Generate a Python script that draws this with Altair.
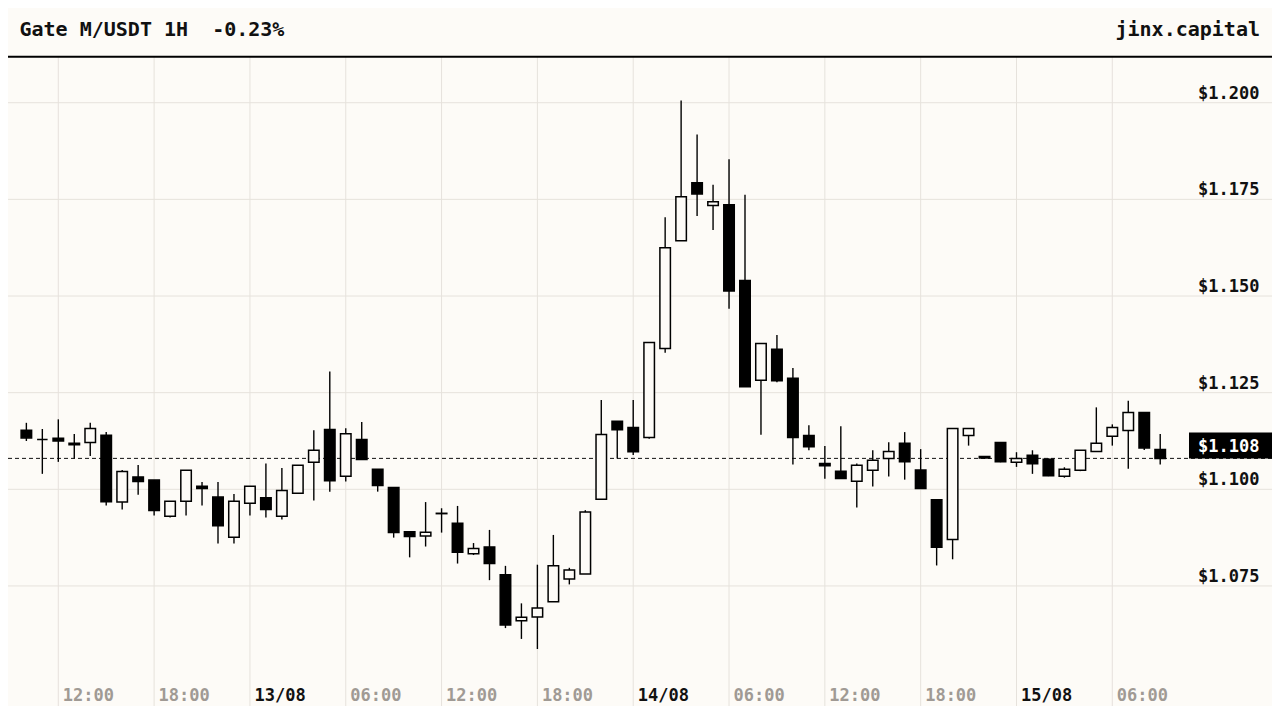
import altair as alt
import pandas as pd

# ---- data ----
hours = list(range(10, 82))  # hours since 12/08 00:00
opens = [1.1153, 1.1129, 1.1132, 1.1119, 1.1121, 1.1140, 1.0967, 1.1032, 1.1024, 1.0930,
         1.0969, 1.1008, 1.0980, 1.0876, 1.0964, 1.0978, 1.0930, 1.0990, 1.1070, 1.1155,
         1.1034, 1.1129, 1.1052, 1.1005, 1.0890, 1.0879, 1.0937, 1.0912, 1.0833, 1.0851,
         1.0779, 1.0660, 1.0670, 1.0709, 1.0768, 1.0781, 1.0974, 1.1176, 1.1160, 1.1134,
         1.1364, 1.1643, 1.1793, 1.1734, 1.1736, 1.1540, 1.1282, 1.1362, 1.1287, 1.1139,
         1.1067, 1.1047, 1.1021, 1.1049, 1.1080, 1.1119, 1.1050, 1.0973, 1.0870, 1.1139,
         1.1085, 1.1121, 1.1070, 1.1088, 1.1078, 1.1034, 1.1049, 1.1098, 1.1137, 1.1152,
         1.1199, 1.1103]
highs = [1.1172, 1.1156, 1.1181, 1.1143, 1.1172, 1.1148, 1.1050, 1.1063, 1.1024, 1.0969,
         1.1049, 1.1019, 1.1019, 1.0988, 1.1008, 1.1067, 1.1055, 1.1062, 1.1153, 1.1305,
         1.1158, 1.1174, 1.1052, 1.1005, 1.0892, 1.0967, 1.0951, 1.0957, 1.0861, 1.0895,
         1.0802, 1.0705, 1.0805, 1.0882, 1.0797, 1.0946, 1.1231, 1.1176, 1.1231, 1.1380,
         1.1704, 1.2006, 1.1918, 1.1788, 1.1854, 1.1762, 1.1377, 1.1399, 1.1314, 1.1166,
         1.1112, 1.1163, 1.1067, 1.1101, 1.1122, 1.1148, 1.1104, 1.0973, 1.1157, 1.1157,
         1.1086, 1.1121, 1.1096, 1.1101, 1.1080, 1.1057, 1.1101, 1.1212, 1.1168, 1.1229,
         1.1200, 1.1143]
lows = [1.1125, 1.1040, 1.1071, 1.1080, 1.1086, 1.0958, 1.0948, 1.0986, 1.0932, 1.0927,
        1.0932, 1.0958, 1.0860, 1.0860, 1.0932, 1.0927, 1.0922, 1.0990, 1.0971, 1.0994,
        1.1020, 1.1077, 1.0994, 1.0875, 1.0824, 1.0852, 1.0888, 1.0808, 1.0830, 1.0765,
        1.0641, 1.0613, 1.0587, 1.0709, 1.0754, 1.0781, 1.0974, 1.1080, 1.1089, 1.1131,
        1.1353, 1.1643, 1.1707, 1.1671, 1.1467, 1.1265, 1.1141, 1.1277, 1.1064, 1.1101,
        1.1027, 1.1028, 1.0953, 1.1007, 1.1033, 1.1025, 1.1002, 1.0803, 1.0819, 1.1113,
        1.1079, 1.1070, 1.1058, 1.1040, 1.1034, 1.1030, 1.1047, 1.1098, 1.1113, 1.1053,
        1.1102, 1.1064]
closes = [1.1133, 1.1129, 1.1125, 1.1115, 1.1157, 1.0968, 1.1046, 1.1020, 1.0945, 1.0969,
          1.1049, 1.1002, 1.0906, 1.0969, 1.1008, 1.0948, 1.0997, 1.1062, 1.1101, 1.1022,
          1.1144, 1.1077, 1.1010, 1.0888, 1.0878, 1.0889, 1.0938, 1.0837, 1.0847, 1.0808,
          1.0649, 1.0669, 1.0693, 1.0802, 1.0791, 1.0941, 1.1142, 1.1154, 1.1097, 1.1380,
          1.1625, 1.1757, 1.1764, 1.1744, 1.1513, 1.1265, 1.1377, 1.1281, 1.1134, 1.1110,
          1.1061, 1.1028, 1.1062, 1.1075, 1.1098, 1.1071, 1.1002, 1.0850, 1.1157, 1.1157,
          1.1081, 1.1071, 1.1080, 1.1066, 1.1035, 1.1052, 1.1101, 1.1119, 1.1160, 1.1199,
          1.1107, 1.1080]

x_tick_hours = [12, 18, 24, 30, 36, 42, 48, 54, 60, 66, 72, 78]
x_tick_labels = ["12:00", "18:00", "13/08", "06:00", "12:00", "18:00",
                 "14/08", "06:00", "12:00", "18:00", "15/08", "06:00"]
y_tick_values = [1.075, 1.100, 1.125, 1.150, 1.175, 1.200]
y_tick_labels = ["$1.075", "$1.100", "$1.125", "$1.150", "$1.175", "$1.200"]

title_left = "Gate M/USDT 1H\u00a0 -0.23%"
title_right = "jinx.capital"
last_price = closes[-1]
last_price_label = "$1.108"

# ---- style ----
W, H = 1264, 698
BG = "#fdfbf7"
GRID = "#e6e2dc"
INK = "#111111"
GRAY = "#a09a94"
FONT = "DejaVu Sans Mono"

xs = alt.Scale(domain=[8.85, 88.0], nice=False, zero=False, padding=0)
ys = alt.Scale(domain=[1.04395, 1.2245], nice=False, zero=False, padding=0)

candles = pd.DataFrame({"h": hours, "o": opens, "hi": highs, "lo": lows, "c": closes})
xt = pd.DataFrame({"h": x_tick_hours, "lab": x_tick_labels})
yt = pd.DataFrame({"v": y_tick_values, "lab": y_tick_labels})
lp = pd.DataFrame({"p": [last_price], "lab": [last_price_label]})
hdr = pd.DataFrame({"left": [title_left], "right": [title_right]})

vgrid = alt.Chart(xt).mark_rule(color=GRID, strokeWidth=1).encode(
    x=alt.X("h:Q", scale=xs, axis=None),
    y=alt.value(49), y2=alt.value(H))

hgrid = alt.Chart(yt).mark_rule(color=GRID, strokeWidth=1).encode(
    y=alt.Y("v:Q", scale=ys, axis=None),
    x=alt.value(0), x2=alt.value(W))

pline = alt.Chart(lp).mark_rule(color=INK, strokeWidth=1, strokeDash=[4, 3]).encode(
    y=alt.Y("p:Q", scale=ys, axis=None),
    x=alt.value(0), x2=alt.value(W))

wicks = alt.Chart(candles).mark_rule(color="#000000", strokeWidth=1.4).encode(
    x=alt.X("h:Q", scale=xs, axis=None),
    y=alt.Y("lo:Q", scale=ys, axis=None),
    y2="hi:Q")

bodies = alt.Chart(candles).mark_bar(size=10.5, stroke="#000000", strokeWidth=1.5).encode(
    x=alt.X("h:Q", scale=xs, axis=None),
    y=alt.Y("o:Q", scale=ys, axis=None),
    y2="c:Q",
    fill=alt.condition("datum.o > datum.c", alt.value("#000000"), alt.value(BG)))

hline = alt.Chart(hdr).mark_rule(color="#000000", strokeWidth=2).encode(
    y=alt.value(48.7), x=alt.value(0), x2=alt.value(W))

htext_l = alt.Chart(hdr).mark_text(
    align="left", baseline="alphabetic", font=FONT, fontSize=20, fontWeight="bold", color=INK
).encode(x=alt.value(11.5), y=alt.value(27.7), text="left:N")

htext_r = alt.Chart(hdr).mark_text(
    align="right", baseline="alphabetic", font=FONT, fontSize=20, fontWeight="bold", color=INK
).encode(x=alt.value(1252), y=alt.value(27.7), text="right:N")

ylabels = alt.Chart(yt).mark_text(
    align="left", baseline="alphabetic", font=FONT, fontSize=17, fontWeight="bold",
    color=INK, dy=-4
).encode(y=alt.Y("v:Q", scale=ys, axis=None), x=alt.value(1190), text="lab:N")

pbox = alt.Chart(lp).transform_calculate(ptop="datum.p + 26/3866").mark_rect(color="#000000").encode(
    y=alt.Y("p:Q", scale=ys, axis=None), y2="ptop:Q",
    x=alt.value(1181), x2=alt.value(W))

ptext = alt.Chart(lp).mark_text(
    align="left", baseline="alphabetic", font=FONT, fontSize=17, fontWeight="bold",
    color="#ffffff", dy=-6
).encode(y=alt.Y("p:Q", scale=ys, axis=None), x=alt.value(1190), text="lab:N")

xlabels = alt.Chart(xt).mark_text(
    align="left", baseline="alphabetic", font=FONT, fontSize=17, fontWeight="bold", dx=4.5
).encode(
    x=alt.X("h:Q", scale=xs, axis=None), y=alt.value(692.7), text="lab:N",
    color=alt.condition("indexof(datum.lab, '/') >= 0", alt.value(INK), alt.value(GRAY)))

chart = alt.layer(
    vgrid, hgrid, pline, wicks, bodies, hline, htext_l, htext_r,
    ylabels, pbox, ptext, xlabels
).properties(
    width=W, height=H, padding=0,
    autosize=alt.AutoSizeParams(type="none"),
    background=BG
).configure_view(strokeWidth=0)

chart.save("out.html", embed_options={"renderer": "svg", "actions": False})
